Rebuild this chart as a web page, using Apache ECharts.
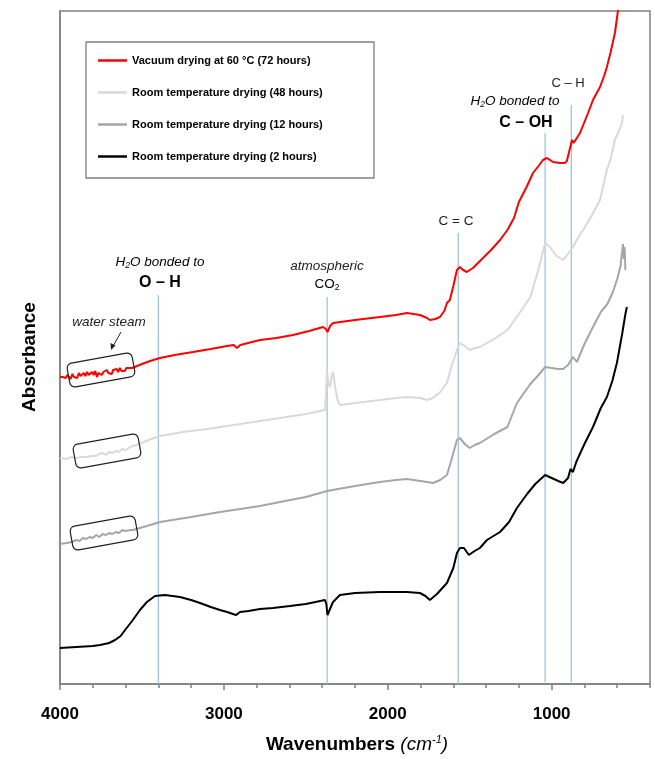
<!DOCTYPE html>
<html>
<head>
<meta charset="utf-8">
<script src="https://cdn.jsdelivr.net/npm/echarts@6/dist/echarts.min.js"></script>
<style>html,body{margin:0;padding:0;background:#fff}#c{width:655px;height:759px}</style>
</head>
<body>
<div id="c"></div>
<script>
// ---- data (wavenumber cm-1, absorbance in arbitrary units) ----
const seriesNames = [
  'Vacuum drying at 60 °C (72 hours)',
  'Room temperature drying (48 hours)',
  'Room temperature drying (12 hours)',
  'Room temperature drying (2 hours)'
];
const vacuum72h = [[4000,307],[3985,307],[3975,308],[3965,306],[3955,309],[3945,307],[3935,305],[3925,310],[3915,307],[3905,309],[3895,306],[3885,311],[3875,308],[3865,306],[3855,311],[3845,308],[3835,312],[3825,309],[3815,307],[3805,312],[3795,309],[3785,313],[3775,307],[3765,311],[3755,313],[3745,309],[3735,312],[3725,310],[3715,314],[3705,311],[3695,313],[3685,310],[3675,314],[3665,312],[3655,315],[3645,312],[3635,316],[3625,313],[3615,315],[3605,313],[3595,316],[3585,314],[3575,316],[3560,316],[3500,320],[3450,323],[3390,326],[3300,329],[3189,332],[3080,335],[2981,338],[2940,339],[2920,336],[2900,339],[2780,344],[2680,346],[2578,349],[2480,353],[2395,357],[2378,355],[2368,352],[2352,358],[2334,361],[2200,364],[2048,367],[1950,369],[1883,371],[1804,369],[1760,366],[1743,364],[1710,365],[1682,367],[1655,373],[1639,381],[1621,384],[1600,398],[1578,414],[1560,417],[1540,414],[1517,412],[1500,414],[1480,416],[1450,421],[1419,426],[1370,434],[1315,444],[1270,454],[1230,466],[1200,482],[1150,498],[1114,511],[1080,518],[1053,524],[1029,526],[1010,524],[992,522],[949,521],[920,521],[907,523],[888,536],[876,544],[866,541],[858,539],[827,551],[800,562],[778,571],[748,584],[705,597],[680,608],[663,617],[640,632],[614,651],[595,674],[580,694]];
const room48h = [[4000,226],[3960,225],[3930,227],[3900,226],[3870,227],[3840,227],[3810,228],[3780,228],[3760,230],[3740,231],[3720,229],[3700,232],[3680,231],[3660,233],[3640,232],[3620,235],[3600,234],[3560,238],[3530,239],[3460,244],[3390,248],[3250,252],[3100,255],[3023,257],[2900,260],[2780,263],[2658,266],[2500,270],[2383,274],[2376,292],[2371,314],[2362,300],[2353,297],[2342,308],[2334,312],[2320,296],[2306,284],[2292,279],[2200,281],[2048,284],[1950,286],[1883,287],[1800,286],[1761,284],[1724,286],[1680,292],[1639,301],[1610,318],[1578,334],[1560,341],[1540,339],[1500,334],[1470,336],[1438,337],[1350,345],[1270,354],[1200,370],[1130,387],[1080,415],[1040,441],[1010,437],[970,428],[930,424],[900,430],[870,437],[840,446],[808,454],[760,467],[705,484],[663,514],[640,525],[614,544],[590,553],[571,561],[565,569]];
const room12h = [[4000,140],[3960,141],[3930,142],[3900,144],[3880,143],[3860,146],[3840,145],[3820,147],[3800,146],[3780,149],[3760,147],[3740,150],[3720,149],[3700,151],[3680,150],[3660,152],[3640,151],[3620,154],[3600,153],[3570,154],[3555,154],[3470,158],[3390,162],[3200,167],[3023,172],[2900,175],[2780,178],[2658,182],[2500,187],[2371,193],[2200,198],[2048,202],[1950,204],[1883,205],[1800,203],[1761,202],[1724,201],[1680,204],[1639,209],[1610,225],[1578,244],[1560,246],[1530,240],[1500,236],[1470,239],[1438,241],[1350,250],[1270,257],[1212,281],[1130,300],[1080,309],[1040,317],[1000,316],[960,315],[930,315],[900,319],[870,327],[846,322],[800,340],[748,357],[700,372],[660,380],[626,392],[600,405],[580,418],[565,440],[560,425],[555,437],[550,414]];
const room2h = [[4000,36],[3900,37],[3800,38],[3756,39],[3700,41],[3664,44],[3630,48],[3603,54],[3560,63],[3512,74],[3470,82],[3420,88],[3360,89],[3268,87],[3200,84],[3146,81],[3080,77],[3024,74],[2980,72],[2945,70],[2925,69],[2902,72],[2850,73],[2780,75],[2700,76],[2597,78],[2500,80],[2383,84],[2375,80],[2368,69],[2360,72],[2345,78],[2334,82],[2292,89],[2200,91],[2048,92],[1883,92],[1804,91],[1770,88],[1743,84],[1700,90],[1639,101],[1600,116],[1578,131],[1560,136],[1535,136],[1505,129],[1470,133],[1438,136],[1395,144],[1315,152],[1260,162],[1212,176],[1150,190],[1100,200],[1040,209],[1000,206],[960,203],[930,201],[900,206],[885,215],[880,217],[870,212],[850,222],[800,240],[748,257],[700,276],[663,287],[630,303],[602,321],[570,350],[550,370],[541,377]];
// band marker lines: wavenumber, top and bottom (absorbance units)
const markerWn = [3400, 2370, 1570, 1040, 880];
const markerTop = [389, 387, 451, 551, 579];
const markerBottom = [0, 0, 0, 2, 2];
const majorTicks = [4000, 3000, 2000, 1000];
const minorTicks = [4000,3800,3600,3400,3200,3000,2800,2600,2400,2200,2000,1800,1600,1400,1200,1000,800,600,400];

const FONT = "'Liberation Sans', Arial, Helvetica, sans-serif";
const colors = ['#ff0000', '#d9d9d9', '#a6a6a6', '#000000'];
const allData = [vacuum72h, room48h, room12h, room2h];

const chart = echarts.init(document.getElementById('c'), null, {renderer: 'canvas'});

const series = [];
markerWn.forEach((w, i) => {
  series.push({
    type: 'line', name: 'marker' + i, silent: true, z: 1,
    symbol: 'none', animation: false,
    lineStyle: {color: '#9dc3e6', width: 1.3},
    data: [[w, markerTop[i]], [w, markerBottom[i]]]
  });
});
[1, 2, 3, 0].forEach(i => {
  series.push({
    type: 'line', name: seriesNames[i], symbol: 'none', showSymbol: false, animation: false, z: 3,
    lineStyle: {color: colors[i], width: 2}, itemStyle: {color: colors[i]},
    data: allData[i]
  });
});

const richH2O = {
  i: {fontStyle: 'italic', fontSize: 13.5, fontFamily: FONT, color: '#222'},
  s: {fontStyle: 'italic', fontSize: 8.5, fontFamily: FONT, color: '#222', padding: [7, 0, 0, 0]}
};

function txt(x, y, text, font, extra) {
  return {type: 'text', x: x, y: y, z: 10,
    style: Object.assign({text: text, font: font, fill: '#222', align: 'center', verticalAlign: 'middle'}, extra || {})};
}
function box(cx, cy, rot) {
  return {type: 'rect', x: cx, y: cy, rotation: rot, z: 10,
    shape: {x: -33, y: -12, width: 66, height: 24, r: 5},
    style: {fill: 'none', stroke: '#222', lineWidth: 1.2}};
}

const option = {
  backgroundColor: '#fff',
  animation: false,
  grid: {left: 60, right: 5, top: 11, bottom: 75, show: true, borderColor: '#808080', borderWidth: 1.5},
  legend: {
    data: seriesNames.map((n, i) => ({name: n, icon: 'rect', itemStyle: {color: colors[i]}})),
    orient: 'vertical', left: 98, top: 54, padding: 0,
    itemWidth: 29, itemHeight: 2.5, itemGap: 19,
    textStyle: {fontFamily: FONT, fontSize: 11, fontWeight: 'bold', color: '#000', lineHeight: 13}
  },
  xAxis: [{
    type: 'value', min: 400, max: 4000, inverse: true, position: 'bottom',
    axisLine: {show: true, lineStyle: {color: '#808080', width: 1.5}},
    axisTick: {show: true, customValues: majorTicks, length: 6, inside: false, lineStyle: {color: '#808080', width: 1.5}},
    axisLabel: {show: true, customValues: majorTicks, margin: 22, fontFamily: FONT, fontSize: 17, fontWeight: 'bold', color: '#000',
      formatter: v => String(v)},
    splitLine: {show: false}
  }, {
    type: 'value', min: 400, max: 4000, inverse: true, position: 'bottom',
    axisLine: {show: false},
    axisTick: {show: true, customValues: minorTicks, length: 4, lineStyle: {color: '#808080', width: 1.5}},
    axisLabel: {show: false},
    splitLine: {show: false}
  }],
  yAxis: {
    type: 'value', min: 0, max: 673,
    axisLine: {show: true, lineStyle: {color: '#808080', width: 1.5}},
    axisTick: {show: false}, axisLabel: {show: false}, splitLine: {show: false}
  },
  series: series,
  graphic: [
    {type: 'rect', z: 5, shape: {x: 86, y: 42, width: 288, height: 136},
      style: {fill: 'none', stroke: '#808080', lineWidth: 1.3}},
    {type: 'text', x: 30, y: 357, rotation: Math.PI / 2, z: 10,
      style: {text: 'Absorbance', font: 'bold 19px ' + FONT, fill: '#000', align: 'center', verticalAlign: 'middle'}},
    {type: 'text', x: 357, y: 745, z: 10,
      style: {text: '{b|Wavenumbers }{i|(cm}{sup|-1}{i|)}', align: 'center', verticalAlign: 'middle',
        rich: {
          b: {fontFamily: FONT, fontSize: 19, fontWeight: 'bold', color: '#000'},
          i: {fontFamily: FONT, fontSize: 19, fontStyle: 'italic', color: '#000'},
          sup: {fontFamily: FONT, fontSize: 11, fontStyle: 'italic', color: '#000', padding: [0, 0, 10, 0]}
        }}},
    {type: 'text', x: 160, y: 262, z: 10, style: {text: '{i|H}{s|2}{i|O bonded to}', align: 'center', verticalAlign: 'middle', rich: richH2O}},
    txt(160, 283, 'O – H', 'bold 16px ' + FONT, {fill: '#000'}),
    txt(327, 266, 'atmospheric', 'italic 13.5px ' + FONT),
    {type: 'text', x: 327, y: 284, z: 10, style: {text: '{n|CO}{s|2}', align: 'center', verticalAlign: 'middle',
      rich: {n: {fontFamily: FONT, fontSize: 13.5, color: '#222'}, s: {fontFamily: FONT, fontSize: 8.5, color: '#222', padding: [7, 0, 0, 0]}}}},
    txt(456, 221, 'C = C', '13.5px ' + FONT),
    {type: 'text', x: 515, y: 101, z: 10, style: {text: '{i|H}{s|2}{i|O bonded to}', align: 'center', verticalAlign: 'middle', rich: richH2O}},
    txt(526, 123, 'C – OH', 'bold 16px ' + FONT, {fill: '#000'}),
    txt(568, 83, 'C – H', '13px ' + FONT),
    txt(109, 322, 'water steam', 'italic 13.5px ' + FONT),
    {type: 'line', z: 10, shape: {x1: 121, y1: 332, x2: 112, y2: 348}, style: {stroke: '#222', lineWidth: 1}},
    {type: 'polygon', z: 10, shape: {points: [[111, 350], [110.5, 343], [115.5, 345.5]]}, style: {fill: '#222'}},
    box(101, 370, 0.18),
    box(107, 451, 0.18),
    box(104, 533, 0.18)
  ]
};
chart.setOption(option);
</script>
</body>
</html>
